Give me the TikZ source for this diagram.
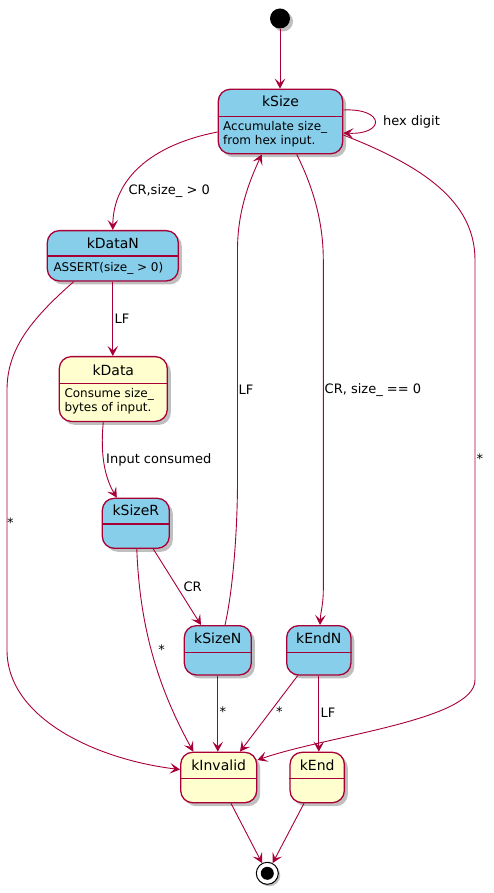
\documentclass[tikz,border=0pt]{standalone}
\usepackage{fontspec}
\setmainfont{DejaVu Sans}
\usepackage{tikz}
\usepackage{xcolor}
\usetikzlibrary{calc}
\usetikzlibrary{positioning}
\usetikzlibrary{arrows.meta}
\usetikzlibrary{shadows}

\definecolor{umlred}{HTML}{A80036}
\definecolor{umlblue}{HTML}{87CEEB}
\definecolor{umlyellow}{HTML}{FEFECE}

\tikzset{
  stbox/.style={draw=umlred, line width=1.3pt, rounded corners=12pt, inner sep=0pt,
    drop shadow={shadow xshift=3.5pt, shadow yshift=-3.5pt, opacity=0.25, fill=black}},
  stline/.style={draw=umlred, line width=1.1pt},
  stname/.style={inner sep=0pt, font=\fontsize{14}{16}\selectfont},
  stdesc/.style={inner sep=0pt, anchor=west, align=left, font=\fontsize{12}{14}\selectfont},
  elabel/.style={inner sep=0pt, anchor=west, font=\fontsize{13}{15}\selectfont},
  trans/.style={draw=umlred, line width=0.9pt, -{Stealth[length=10pt,width=10.5pt,inset=4.5pt]}}
}

\begin{document}
\begin{tikzpicture}[x=1pt,y=-1pt]
\useasboundingbox (0,0) rectangle (494,893);

% start and end
\node[circle, fill=black, minimum size=20pt, inner sep=0pt,
  drop shadow={shadow xshift=3pt, shadow yshift=-3pt, opacity=0.25, fill=black}] (start) at (280,18.5) {};
\node[circle, draw=black, fill=white, line width=1pt, minimum size=22pt, inner sep=0pt,
  drop shadow={shadow xshift=2pt, shadow yshift=-2pt, opacity=0.25, fill=black}] (end) at (267.3,873.3) {};
\node[circle, fill=black, minimum size=13pt, inner sep=0pt] (endin) at (end) {};

% states
\node[stbox, fill=umlblue, minimum width=124.4pt, minimum height=64.5pt] (kSize) at (280.5,121.5) {};
\draw[stline] (kSize.west |- 0,116.5) -- (kSize.east |- 0,116.5);
\node[stname] (kSizeT) at (280.5,101.7) {kSize};
\node[stdesc] (kSizeD) at (223,134) {Accumulate size\_\\from hex input.};

\node[stbox, fill=umlblue, minimum width=131pt, minimum height=50.3pt] (kDataN) at (112.8,255.8) {};
\draw[stline] (kDataN.west |- 0,256) -- (kDataN.east |- 0,256);
\node[stname] (kDataNT) at (112.8,243.3) {kDataN};
\node[stdesc] (kDataND) at (53.3,268.5) {ASSERT(size\_ {}> 0)};

\node[stbox, fill=umlyellow, minimum width=108pt, minimum height=64.8pt] (kData) at (113.3,389) {};
\draw[stline] (kData.west |- 0,383.3) -- (kData.east |- 0,383.3);
\node[stname] (kDataT) at (113.3,370) {kData};
\node[stdesc] (kDataD) at (64.3,401.3) {Consume size\_\\bytes of input.};

\node[stbox, fill=umlblue, minimum width=67pt, minimum height=50pt] (kSizeR) at (135.8,523.3) {};
\draw[stline] (kSizeR.west |- 0,524) -- (kSizeR.east |- 0,524);
\node[stname] (kSizeRT) at (135.8,510.7) {kSizeR};

\node[stbox, fill=umlblue, minimum width=67pt, minimum height=49.3pt] (kSizeN) at (217.8,650.3) {};
\draw[stline] (kSizeN.west |- 0,652.3) -- (kSizeN.east |- 0,652.3);
\node[stname] (kSizeNT) at (217.8,638.3) {kSizeN};

\node[stbox, fill=umlblue, minimum width=64.3pt, minimum height=49.3pt] (kEndN) at (318.8,650.3) {};
\draw[stline] (kEndN.west |- 0,652.3) -- (kEndN.east |- 0,652.3);
\node[stname] (kEndNT) at (318.8,638.3) {kEndN};

\node[stbox, fill=umlyellow, minimum width=76pt, minimum height=50.4pt] (kInvalid) at (218.7,777.5) {};
\draw[stline] (kInvalid.west |- 0,778.3) -- (kInvalid.east |- 0,778.3);
\node[stname] (kInvalidT) at (218.7,765) {kInvalid};

\node[stbox, fill=umlyellow, minimum width=54.3pt, minimum height=50.4pt] (kEnd) at (317.2,777.5) {};
\draw[stline] (kEnd.west |- 0,778.3) -- (kEnd.east |- 0,778.3);
\node[stname] (kEndT) at (317.2,765) {kEnd};

% transitions
\draw[trans] (start) -- (start |- kSize.north);

\draw[trans] ([yshift=11.5pt]kSize.east) .. controls +(42,-2) and +(42,2) .. ([yshift=-11.5pt]kSize.east);
\node[elabel] (lHex) at (383,121.5) {hex digit};

\draw[trans] ([yshift=-10.5pt]kSize.west) .. controls (150,145) and (113,180) .. (kDataN.north);
\node[elabel] (lCrPos) at (128.3,191.5) {CR,size\_ {}> 0};

\draw[trans] (kDataN.south) -- (kDataN.south |- kData.north);
\node[elabel] (lLfData) at (114.5,318.5) {LF};

\draw[trans] ([xshift=-39pt]kDataN.south) .. controls (30,320) and (7,350) .. (7,390) -- (7,650)
  .. controls (7,720) and (100,760) .. ([yshift=8pt]kInvalid.west);
\node[elabel] (lStarDataN) at (7,523) {*};

\draw[trans] ([xshift=-10pt]kData.south) .. controls (100,455) and (105,478) .. ([xshift=-19pt]kSizeR.north);
\node[elabel] (lConsumed) at (106,459.5) {Input consumed};

\draw[trans] ([xshift=17.5pt]kSizeR.south) -- ([xshift=-16.8pt]kSizeN.north);
\node[elabel] (lCr) at (183.3,586.5) {CR};

\draw[trans] ([xshift=1pt]kSizeR.south) .. controls (140,640) and (165,700) .. ([xshift=-25.4pt]kInvalid.north);
\node[elabel, anchor=center] (lStarSizeR) at (161.7,649.3) {*};

\draw[trans] ([xshift=7.2pt]kSizeN.north) .. controls (233,590) and (237.5,530) .. (237.5,480) -- (237.5,250)
  .. controls (237.5,210) and (250,180) .. ([xshift=-18.8pt]kSize.south);
\node[elabel] (lLfSize) at (238.5,390) {LF};

\draw[trans] ([xshift=16.2pt]kSize.south) .. controls (312,185) and (323.3,220) .. (323.3,260) -- (323.3,590)
  .. controls (323.3,605) and (320.5,612) .. ([xshift=1.2pt]kEndN.north);
\node[elabel] (lCrZero) at (324.5,390) {CR, size\_ {}== 0};

\draw[trans] ([yshift=-13.5pt]kSize.east) .. controls (420,165) and (475,200) .. (475,260) -- (475,680)
  .. controls (475,720) and (330,735) .. ([yshift=17.5pt]kInvalid.east);
\node[elabel] (lStarSize) at (476.5,458.5) {*};

\draw[trans] (kSizeN.south) -- (kSizeN.south |- kInvalid.north);
\node[elabel] (lStarSizeN) at (219.5,712) {*};

\draw[trans] ([xshift=-21.1pt]kEndN.south) -- ([xshift=21.3pt]kInvalid.north);
\node[elabel, anchor=center] (lStarEndN) at (279.3,711.7) {*};

\draw[trans] (kEndN.south) -- (kEndN.south |- kEnd.north);
\node[elabel] (lLfEnd) at (320.5,712.7) {LF};

\draw[trans] ([xshift=12.3pt]kInvalid.south) -- (end);
\draw[trans] ([xshift=-13.2pt]kEnd.south) -- (end);

\end{tikzpicture}
\end{document}
